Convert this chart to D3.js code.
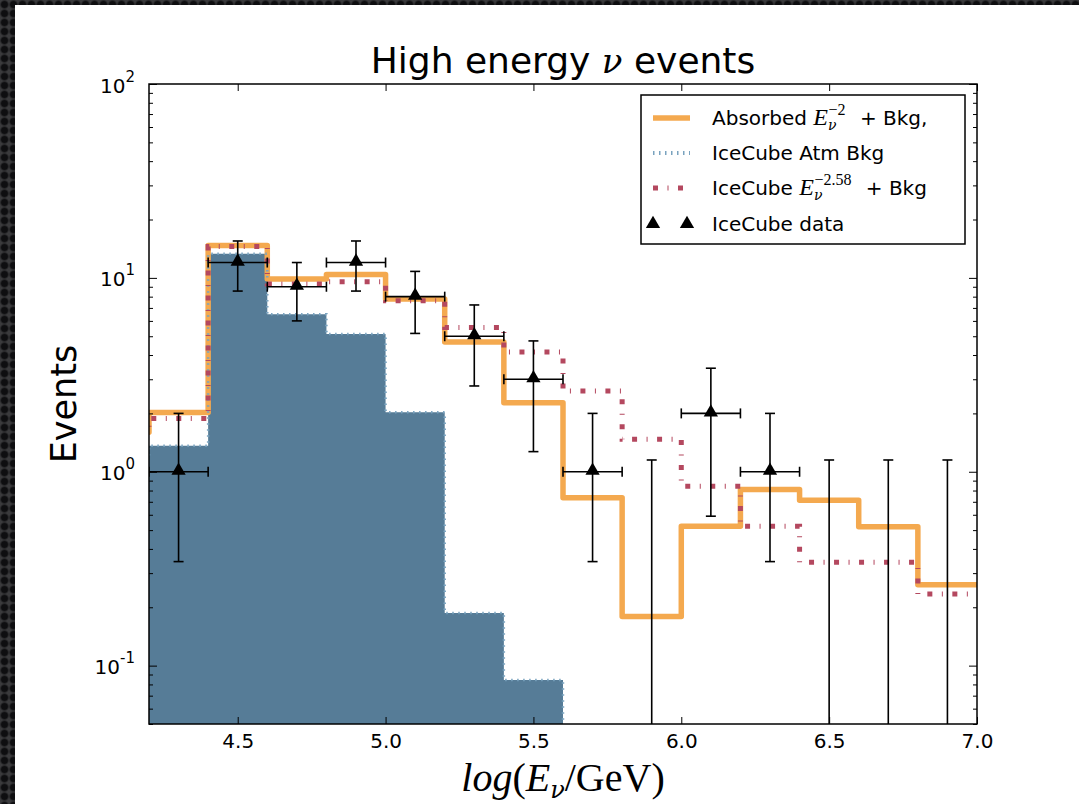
<!DOCTYPE html>
<html>
<head>
<meta charset="utf-8">
<script src="https://cdn.jsdelivr.net/npm/d3@7"></script>
<style>
  html, body { margin: 0; padding: 0; }
  body {
    width: 1079px; height: 804px; overflow: hidden;
    background-color: #262626;
    background-image: radial-gradient(circle, #0e0e10 45%, #3a3a3c 75%);
    background-size: 9px 9px;
  }
  svg { position: absolute; left: 0; top: 0; }
</style>
</head>
<body>
<svg id="chart" width="1079" height="804"></svg>
<script>
// bin edges of the histograms, log10(E/GeV); the first bin lies just left of the view
var binEdges = [4.0, 4.2, 4.4, 4.6, 4.8, 5.0, 5.2, 5.4, 5.6, 5.8, 6.0, 6.2, 6.4, 6.6, 6.8, 7.0];
// per-bin expected events
var absorbed   = [1.6, 2.02, 14.7, 9.87, 10.4, 7.78, 4.67, 2.27, 0.734, 0.179, 0.523, 0.81, 0.713, 0.52, 0.261];
var atmBkg     = [1.2, 1.36, 13.3, 6.5, 5.13, 2.03, 0.187, 0.0843, 0.032, 0.012, 0.005, 0.002, 0.001, 0.0005, 0.0002];
var icecubeFit = [1.6, 1.88, 14.5, 9.3, 9.55, 7.62, 5.55, 4.15, 2.61, 1.47, 0.843, 0.523, 0.341, 0.341, 0.234];
// IceCube data points
var dataX  = [4.3, 4.5, 4.7, 4.9, 5.1, 5.3, 5.5, 5.7, 5.9, 6.1, 6.3, 6.5, 6.7, 6.9];
var dataN  = [1, 12, 9, 12, 8, 5, 3, 1, 0, 2, 1, 0, 0, 0];
var dataUp = [2.0, 15.5, 12.0, 15.5, 10.8, 7.25, 4.73, 2.0, 1.15, 3.42, 2.0, 1.15, 1.15, 1.15];
var dataLo = [0.344, 8.55, 6.0, 8.55, 5.17, 2.77, 1.27, 0.344, 0, 0.59, 0.344, 0, 0, 0];
var xTicks = [4.5, 5.0, 5.5, 6.0, 6.5, 7.0];
var yTicks = [0.1, 1, 10, 100];
var yTickExp = ["-1", "0", "1", "2"];

var orange = "#f4a94f", pink = "#b4485f", blueFill = "#567c97", blueDot = "#7aa3bf";
var mathFont = "DejaVu Serif";

var pL = 149, pR = 977, pT = 84, pB = 724;
var svg = d3.select("#chart");

// white page
svg.append("rect").attr("x", 15).attr("y", 5).attr("width", 1079 - 15).attr("height", 804 - 5).attr("fill", "#fff");

var x = d3.scaleLinear().domain([4.2, 7.0]).range([pL, pR]);
var y = d3.scaleLog().domain([0.05, 100]).range([pB, pT]);
function yy(v) { return y(Math.max(v, 1e-4)); }

svg.append("clipPath").attr("id", "clip")
  .append("rect").attr("x", pL).attr("y", pT).attr("width", pR - pL).attr("height", pB - pT);
var plot = svg.append("g").attr("clip-path", "url(#clip)");

// outline points for a step histogram (open at the right end)
function stepPoints(vals) {
  var pts = [];
  vals.forEach(function(v, i) {
    pts.push([x(binEdges[i]), yy(v)]);
    pts.push([x(binEdges[i + 1]), yy(v)]);
  });
  return pts;
}
var line = d3.line();

// atm background filled
var atmPts = stepPoints(atmBkg);
var fillPts = [[atmPts[0][0], yy(1e-4)]].concat(atmPts, [[atmPts[atmPts.length - 1][0], yy(1e-4)]]);
plot.append("path").attr("d", line(fillPts) + "Z").attr("fill", blueFill);

plot.append("path").attr("d", line(stepPoints(absorbed)))
  .attr("fill", "none").attr("stroke", orange).attr("stroke-width", 5.5)
  .attr("stroke-linejoin", "round");

plot.append("path").attr("d", line(atmPts))
  .attr("fill", "none").attr("stroke", blueDot).attr("stroke-width", 2.5)
  .attr("stroke-dasharray", "1.5,4.5");

plot.append("path").attr("d", line(stepPoints(icecubeFit)))
  .attr("fill", "none").attr("stroke", pink).attr("stroke-width", 5)
  .attr("stroke-dasharray", "5,9.5,1,9.5");

// data with error bars
var pts = dataX.map(function(d, i) { return {x: d, n: dataN[i], up: dataUp[i], lo: dataLo[i]}; });
var eb = plot.append("g").attr("stroke", "#000").attr("stroke-width", 1.6).attr("fill", "none");
pts.forEach(function(p) {
  var cx = x(p.x), yl = p.lo > 0 ? y(p.lo) : pB + 5, yu = y(p.up);
  eb.append("line").attr("x1", cx).attr("x2", cx).attr("y1", yl).attr("y2", yu);
  eb.append("line").attr("x1", cx - 5).attr("x2", cx + 5).attr("y1", yu).attr("y2", yu);
  if (p.lo > 0) eb.append("line").attr("x1", cx - 5).attr("x2", cx + 5).attr("y1", yl).attr("y2", yl);
  if (p.n > 0) {
    var cy = y(p.n), xa = x(p.x - 0.1), xb = x(p.x + 0.1);
    eb.append("line").attr("x1", xa).attr("x2", xb).attr("y1", cy).attr("y2", cy);
    eb.append("line").attr("x1", xa).attr("x2", xa).attr("y1", cy - 5).attr("y2", cy + 5);
    eb.append("line").attr("x1", xb).attr("x2", xb).attr("y1", cy - 5).attr("y2", cy + 5);
  }
});
var tri = d3.symbol().type(d3.symbolTriangle).size(88);
plot.selectAll("path.mk").data(pts.filter(function(p) { return p.n > 0; }))
  .enter().append("path").attr("class", "mk")
  .attr("d", tri)
  .attr("transform", function(p) { return "translate(" + x(p.x) + "," + (y(p.n) - 1) + ")"; })
  .attr("fill", "#000");

// axes, ticks inside on all four sides
var minor = [];
[0.01, 0.1, 1, 10].forEach(function(d) { for (var k = 2; k <= 9; k++) minor.push(d * k); });
minor = minor.filter(function(v) { return v >= 0.05 && v <= 100; });

function styleAxis(g) {
  g.select(".domain").remove();
  g.selectAll(".tick line").attr("stroke", "#000").attr("stroke-width", 1);
  g.selectAll("text").attr("font-family", "DejaVu Sans").attr("font-size", 20).attr("fill", "#000");
}
svg.append("g").attr("transform", "translate(0," + pB + ")")
  .call(d3.axisBottom(x).tickValues(xTicks).tickSize(-7).tickPadding(10).tickFormat(d3.format(".1f")))
  .call(styleAxis);
svg.append("g").attr("transform", "translate(0," + pT + ")")
  .call(d3.axisTop(x).tickValues(xTicks).tickSize(-7).tickFormat(""))
  .call(styleAxis);

var yAx = svg.append("g").attr("transform", "translate(" + pL + ",0)")
  .call(d3.axisLeft(y).tickValues(yTicks).tickSize(-8).tickFormat(""))
  .call(styleAxis);
yAx.selectAll(".tick text").remove();
yAx.selectAll(".tick").each(function(d, i) {
  var t = d3.select(this).append("text").attr("x", -14).attr("y", 8)
    .attr("text-anchor", "end").attr("font-family", "DejaVu Sans").attr("fill", "#000");
  t.append("tspan").attr("font-size", 20).text("10");
  t.append("tspan").attr("font-size", 15).attr("dy", -11).text(yTickExp[i]);
});
svg.append("g").attr("transform", "translate(" + pL + ",0)")
  .call(d3.axisLeft(y).tickValues(minor).tickSize(-4).tickFormat("")).call(styleAxis);
svg.append("g").attr("transform", "translate(" + pR + ",0)")
  .call(d3.axisRight(y).tickValues(yTicks).tickSize(-8).tickFormat("")).call(styleAxis);
svg.append("g").attr("transform", "translate(" + pR + ",0)")
  .call(d3.axisRight(y).tickValues(minor).tickSize(-4).tickFormat("")).call(styleAxis);

svg.append("rect").attr("x", pL).attr("y", pT).attr("width", pR - pL).attr("height", pB - pT)
  .attr("fill", "none").attr("stroke", "#000").attr("stroke-width", 1.5);

// title and axis labels
var title = svg.append("text").attr("x", (pL + pR) / 2).attr("y", 73).attr("text-anchor", "middle")
  .attr("font-family", "DejaVu Sans").attr("font-size", 36).attr("fill", "#000");
title.append("tspan").text("High energy ");
title.append("tspan").attr("font-family", mathFont).attr("font-style", "italic").attr("font-size", 34).text("ν");
title.append("tspan").text(" events");

svg.append("text").attr("transform", "translate(76," + ((pT + pB) / 2) + ") rotate(-90)")
  .attr("text-anchor", "middle").attr("font-family", "DejaVu Sans").attr("font-size", 35).attr("fill", "#000")
  .text("Events");

var xl = svg.append("text").attr("x", (pL + pR) / 2).attr("y", 791).attr("text-anchor", "middle")
  .attr("font-family", "Liberation Serif").attr("font-size", 40).attr("fill", "#000");
xl.append("tspan").attr("font-style", "italic").text("log");
xl.append("tspan").text("(");
xl.append("tspan").attr("font-style", "italic").text("E");
xl.append("tspan").attr("font-family", mathFont).attr("font-style", "italic").attr("font-size", 24).attr("dy", 7).text("ν");
xl.append("tspan").attr("dy", -7).text("/GeV)");

// legend
var lg = svg.append("g");
lg.append("rect").attr("x", 641).attr("y", 95).attr("width", 324).attr("height", 149)
  .attr("fill", "#fff").attr("stroke", "#000").attr("stroke-width", 1.5);
var rows = [118, 153, 188, 224];
lg.append("line").attr("x1", 653).attr("x2", 690).attr("y1", rows[0]).attr("y2", rows[0])
  .attr("stroke", orange).attr("stroke-width", 5.5);
lg.append("line").attr("x1", 653).attr("x2", 690).attr("y1", rows[1]).attr("y2", rows[1])
  .attr("stroke", blueDot).attr("stroke-width", 4).attr("stroke-dasharray", "1.5,4.5");
lg.append("line").attr("x1", 653).attr("x2", 690).attr("y1", rows[2]).attr("y2", rows[2])
  .attr("stroke", pink).attr("stroke-width", 5).attr("stroke-dasharray", "5,9.5,1,9.5");
[653, 687].forEach(function(cx) {
  lg.append("path").attr("d", tri).attr("transform", "translate(" + cx + "," + rows[3] + ")").attr("fill", "#000");
});
function legendText(row) {
  return lg.append("text").attr("x", 712).attr("y", row + 7)
    .attr("font-family", "DejaVu Sans").attr("font-size", 20).attr("fill", "#000");
}
function mathE(t, sup) {
  t.append("tspan").attr("font-family", "Liberation Serif").attr("font-style", "italic").attr("font-size", 24).text("E");
  t.append("tspan").attr("font-family", mathFont).attr("font-style", "italic").attr("font-size", 14).attr("dy", 5).text("ν");
  t.append("tspan").attr("font-family", "Liberation Serif").attr("font-size", 16).attr("dx", -8).attr("dy", -15).text(sup);
  t.append("tspan").attr("dy", 10).attr("dx", 8).text(" + Bkg");
}
var t1 = legendText(rows[0]); t1.append("tspan").text("Absorbed "); mathE(t1, "−2"); t1.append("tspan").text(",");
legendText(rows[1]).text("IceCube Atm Bkg");
var t3 = legendText(rows[2]); t3.append("tspan").text("IceCube "); mathE(t3, "−2.58");
legendText(rows[3]).text("IceCube data");
</script>
</body>
</html>
